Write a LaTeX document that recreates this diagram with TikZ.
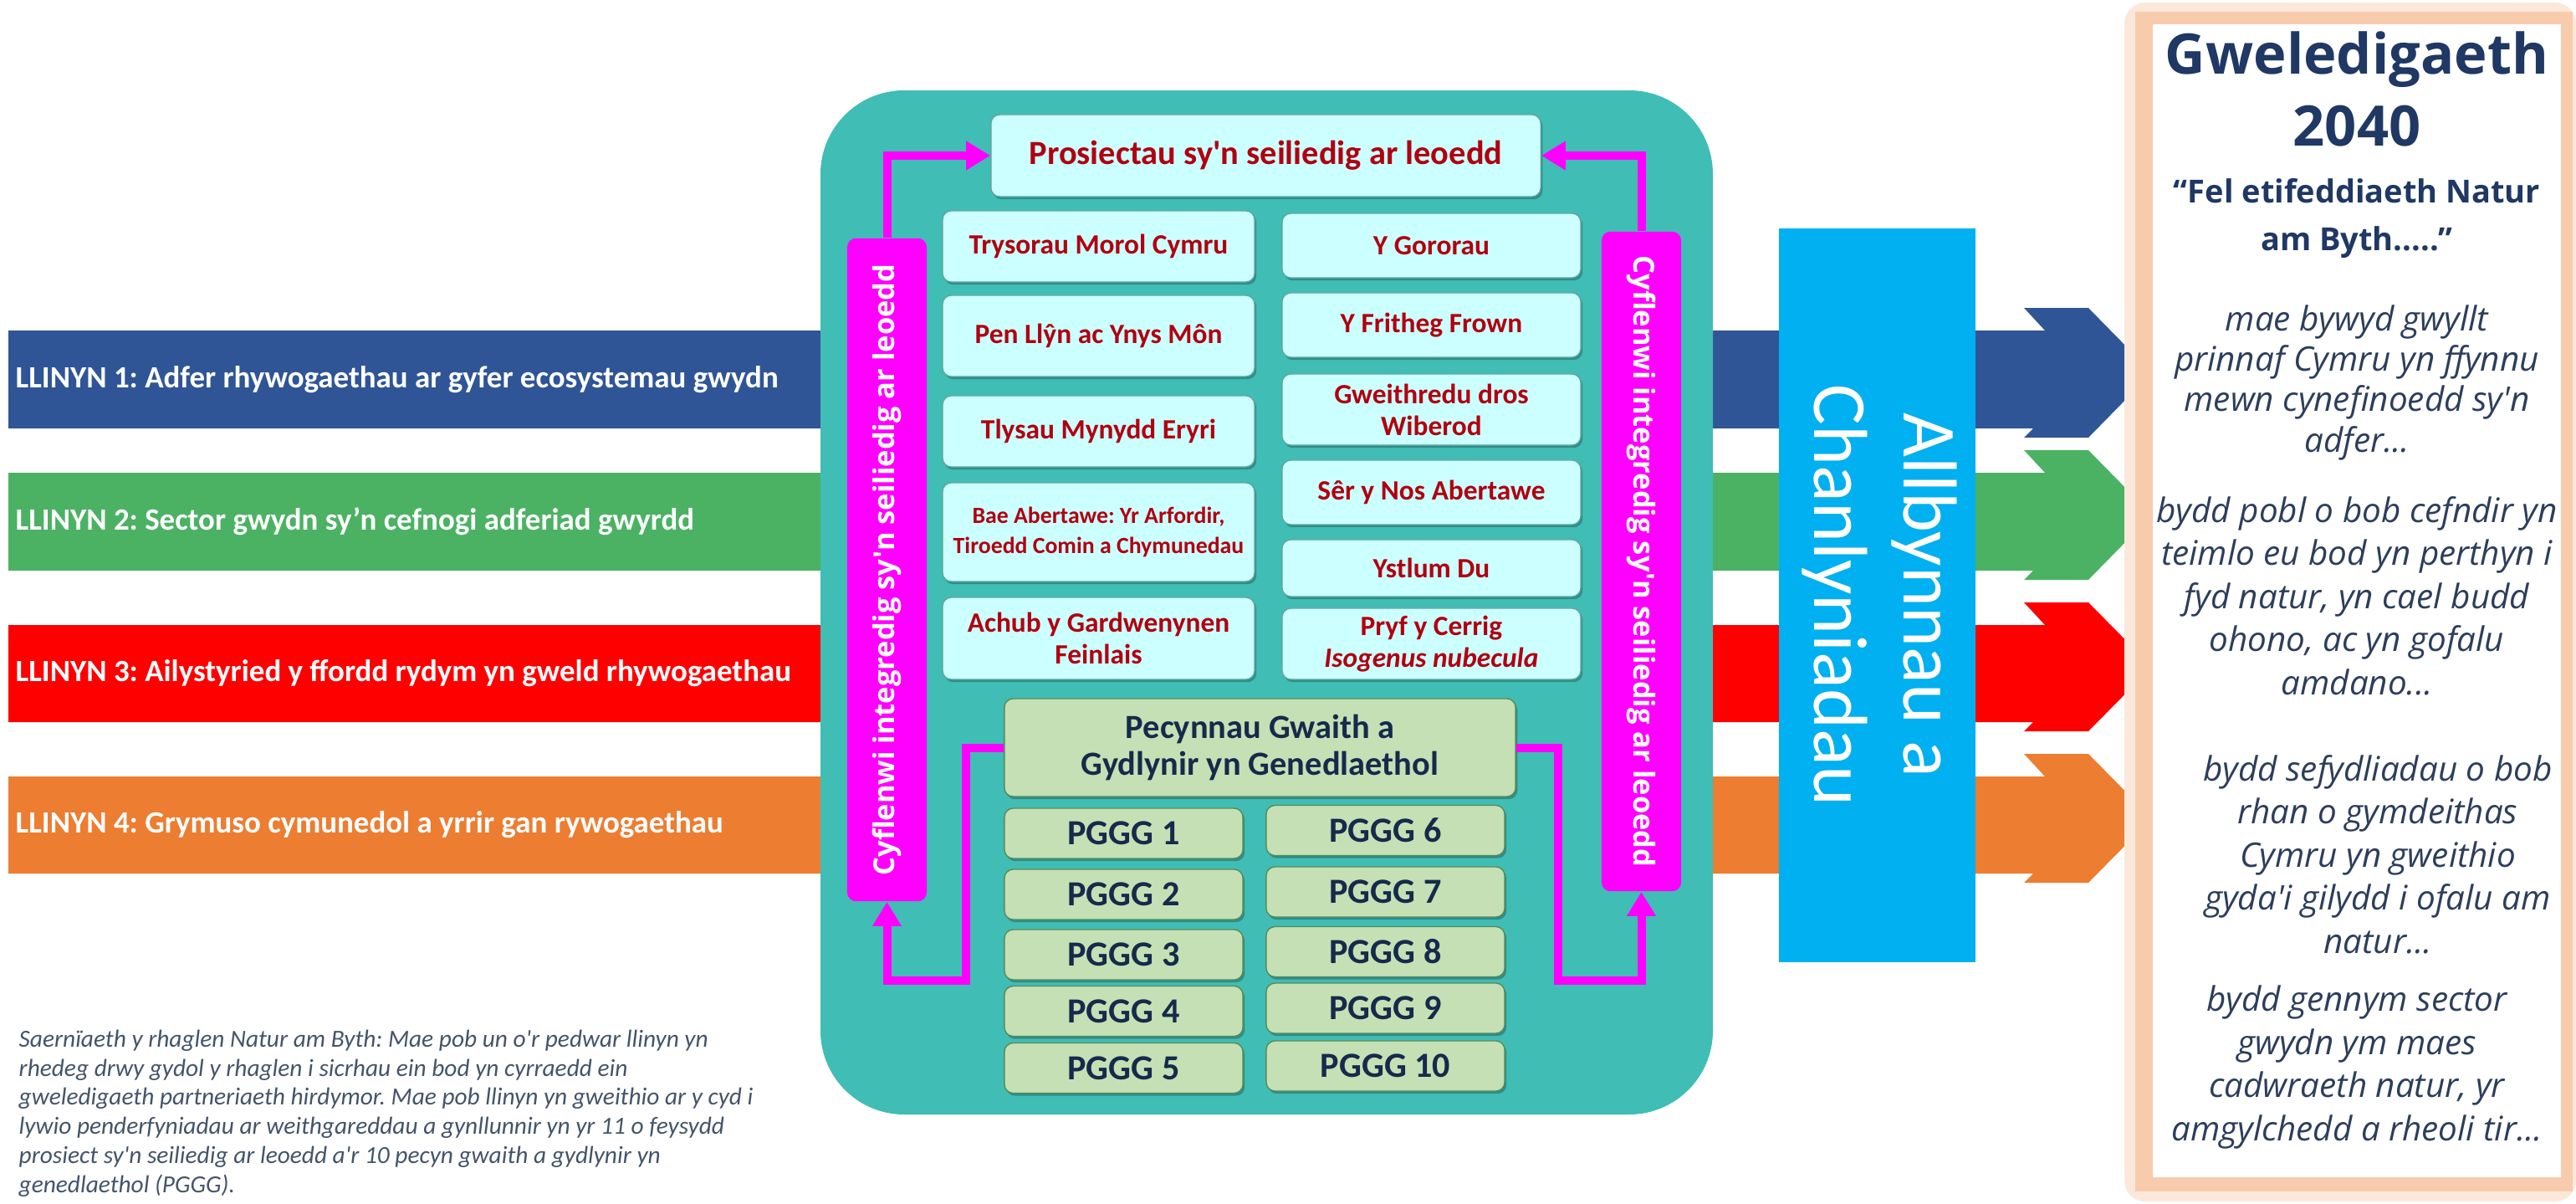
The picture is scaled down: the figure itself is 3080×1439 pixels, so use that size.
\documentclass[tikz,border=0pt]{standalone}
\usepackage{fontspec}
\usepackage{graphicx}
\setmainfont{Carlito}[Ligatures=TeXOff]
\newfontfamily\opensans{Open Sans}
\usetikzlibrary{arrows.meta,shadows}

\definecolor{llinynblue}{RGB}{47,85,151}
\definecolor{llinyngreen}{RGB}{75,178,99}
\definecolor{llinynred}{RGB}{255,0,0}
\definecolor{llinynorange}{RGB}{237,125,49}
\definecolor{hubteal}{RGB}{64,189,181}
\definecolor{prosiectfill}{RGB}{204,255,255}
\definecolor{prosiectedge}{RGB}{95,165,155}
\definecolor{prosiecttext}{RGB}{176,0,16}
\definecolor{pgggfill}{RGB}{197,224,180}
\definecolor{pgggedge}{RGB}{84,140,90}
\definecolor{pgggtext}{RGB}{22,42,76}
\definecolor{cyflenwimag}{RGB}{255,0,255}
\definecolor{allbynblue}{RGB}{0,176,240}
\definecolor{visionblue}{RGB}{31,56,100}
\definecolor{visionitalic}{RGB}{45,62,92}
\definecolor{visionglow}{RGB}{248,203,173}
\definecolor{visionglowlight}{RGB}{252,232,218}
\definecolor{captiongray}{RGB}{68,84,106}

\tikzset{
  llinyn/.style={anchor=west, inner sep=0pt, text=white,
    font=\fontsize{10.5}{12}\selectfont\bfseries},
  boxshadow/.style={drop shadow={shadow xshift=0.6pt, shadow yshift=-0.9pt,
    fill=black, opacity=0.25}},
  prosiect/.style={draw=prosiectedge, fill=prosiectfill, line width=0.4pt, boxshadow,
    rounded corners=3pt, align=center, inner sep=1pt, text=prosiecttext,
    font=\fontsize{9.5}{10.8}\selectfont\bfseries},
  lcol/.style={prosiect, minimum width=3.73cm},
  rcol/.style={prosiect, minimum width=3.57cm},
  pggg/.style={draw=pgggedge, fill=pgggfill, line width=0.4pt, rounded corners=3pt,
    boxshadow, minimum width=2.85cm, minimum height=0.6cm, inner sep=1pt,
    text=pgggtext, font=\fontsize{12}{14}\selectfont\bfseries},
  cyflenwi/.style={fill=cyflenwimag, rounded corners=3pt, minimum width=0.95cm,
    inner sep=0pt, text=white, font=\opensans\fontsize{9.8}{11}\selectfont\bfseries},
  conn/.style={draw=cyflenwimag, line width=0.1cm,
    -{Triangle[length=0.29cm,width=0.33cm]}},
  vision/.style={anchor=base, align=center, inner sep=0pt, text=visionitalic,
    font=\opensans\itshape\fontsize{11.5}{14.6}\selectfont},
  caption/.style={anchor=base west, align=left, inner sep=0pt, text=captiongray,
    font=\fontsize{8.35}{9.87}\selectfont\itshape},
}

\begin{document}
\frenchspacing
\begin{tikzpicture}[x=0.01cm, y=-0.01cm]
\useasboundingbox (0,0) rectangle (3080,1439);

% the four strands, each ending in an arrow
\foreach \ya/\yb/\col/\n/\txt in {395/512/llinynblue/1/{Adfer rhywogaethau ar gyfer ecosystemau gwydn},
    565/682/llinyngreen/2/{Sector gwydn sy’n cefnogi adferiad gwyrdd},
    747/863/llinynred/3/{Ailystyried y ffordd rydym yn gweld rhywogaethau},
    928/1044/llinynorange/4/{Grymuso cymunedol a yrrir gan rywogaethau}}{
  \fill[\col] (10,\ya) -- (2445,\ya) -- (2420,\ya-27) -- (2497,\ya-27)
    -- (2573,{(\ya+\yb-16)/2}) -- (2497,\yb+11) -- (2420,\yb+11) -- (2431,\yb)
    -- (10,\yb) -- cycle;
  \node[llinyn] (llinyn\n) at (18,{(\ya+\yb)/2}) {LLINYN \n: \txt};
}

% central programme block
\fill[hubteal, rounded corners=1cm] (981,108) rectangle (2048,1332);

\node[prosiect, minimum width=6.57cm, minimum height=0.98cm,
  font=\fontsize{11.5}{13}\selectfont\bfseries] (prosiectau) at (1513.5,186)
  {Prosiectau sy'n seiliedig ar leoedd};

\node[lcol, minimum height=0.85cm] (trysorau) at (1313.5,294.5) {Trysorau Morol Cymru};
\node[lcol, minimum height=0.97cm] (penllyn) at (1313.5,401.5) {Pen Llŷn ac Ynys Môn};
\node[lcol, minimum height=0.85cm] (tlysau) at (1313.5,515.5) {Tlysau Mynydd Eryri};
\node[lcol, minimum height=1.18cm, font=\fontsize{7.9}{10}\selectfont\bfseries] (bae)
  at (1313.5,636) {Bae Abertawe: Yr Arfordir,\\Tiroedd Comin a Chymunedau};
\node[lcol, minimum height=0.98cm] (achub) at (1313.5,763) {Achub y Gardwenynen\\Feinlais};
\node[rcol, minimum height=0.77cm] (gororau) at (1711.5,293.5) {Y Gororau};
\node[rcol, minimum height=0.77cm] (fritheg) at (1711.5,388.5) {Y Fritheg Frown};
\node[rcol, minimum height=0.85cm] (wiberod) at (1711.5,489.5) {Gweithredu dros\\Wiberod};
\node[rcol, minimum height=0.77cm] (seryrnos) at (1711.5,588.5) {Sêr y Nos Abertawe};
\node[rcol, minimum height=0.68cm] (ystlum) at (1711.5,679) {Ystlum Du};
\node[rcol, minimum height=0.85cm] (pryf) at (1711.5,769.5) {Pryf y Cerrig\\\textit{Isogenus nubecula}};

\node[pggg, minimum width=6.11cm, minimum height=1.17cm, align=center,
  font=\fontsize{11.5}{12.5}\selectfont\bfseries] (pecynnau) at (1506.5,893.5)
  {Pecynnau Gwaith a\\Gydlynir yn Genedlaethol};
\foreach \i/\y in {1/996,2/1069,3/1141,4/1208.5,5/1276.5}
  \node[pggg] (pggg\i) at (1343.5,\y) {PGGG \i};
\foreach \i/\y in {6/992.5,7/1066,8/1137.5,9/1205,10/1274}
  \node[pggg] (pggg\i) at (1656.5,\y) {PGGG \i};

% integrated delivery bars and their loops
\node[cyflenwi, minimum height=7.92cm] (lbar) at (1060.5,681)
  {\rotatebox{90}{Cyflenwi integredig sy'n seiliedig ar leoedd}};
\node[cyflenwi, minimum height=7.88cm] (rbar) at (1962.5,671)
  {\rotatebox{-90}{Cyflenwi integredig sy'n seiliedig ar leoedd}};
\coordinate (lcorner) at (1155,1172);
\coordinate (rcorner) at (1863,1172);
\draw[conn] (lbar.north) |- (prosiectau.west);
\draw[conn] (rbar.north) |- (prosiectau.east);
\draw[conn] (pecynnau.west) -| (lcorner) -| (lbar.south);
\draw[conn] (pecynnau.east) -| (rcorner) -| (rbar.south);

% outputs and outcomes
\node[fill=allbynblue, minimum width=2.35cm, minimum height=8.77cm, inner sep=0pt,
  text=white, font=\fontsize{26}{30.4}\selectfont] (allbyn) at (2244.5,711.5)
  {\rotatebox{-90}{\begin{tabular}{@{}c@{}}Allbynnau a\\Chanlyniadau\end{tabular}}};

% vision 2040 (base = last line)
\fill[visionglowlight, rounded corners=0.25cm] (2540,3) rectangle (3080,1436);
\fill[visionglow] (2553,14) rectangle (3076,1424);
\fill[white] (2574,29) rectangle (3062,1407);
\node[vision, text=visionblue, font=\opensans\bfseries\fontsize{19}{24.2}\selectfont]
  (gweledigaeth) at (2818,174) {Gweledigaeth\\2040};
\node[vision, text=visionblue, font=\opensans\bfseries\fontsize{10.8}{16}\selectfont]
  (dyfyniad) at (2818,299) {“Fel etifeddiaeth Natur\\am Byth.....”};
\node[vision, font=\opensans\itshape\fontsize{11.5}{13.7}\selectfont] (nod1) at (2818,540)
  {mae bywyd gwyllt\\prinnaf Cymru yn ffynnu\\mewn cynefinoedd sy'n\\adfer...};
\node[vision] (nod2) at (2818,830)
  {bydd pobl o bob cefndir yn\\teimlo eu bod yn perthyn i\\fyd natur, yn cael budd\\ohono, ac yn gofalu\\amdano...};
\node[vision] (nod3) at (2843,1139)
  {bydd sefydliadau o bob\\rhan o gymdeithas\\Cymru yn gweithio\\gyda'i gilydd i ofalu am\\natur...};
\node[vision] (nod4) at (2818,1363)
  {bydd gennym sector\\gwydn ym maes\\cadwraeth natur, yr\\amgylchedd a rheoli tir...};

% caption
\node[caption] (saerniaeth) at (22,1425)
  {Saernïaeth y rhaglen Natur am Byth: Mae pob un o'r pedwar llinyn yn\\
   rhedeg drwy gydol y rhaglen i sicrhau ein bod yn cyrraedd ein\\
   gweledigaeth partneriaeth hirdymor. Mae pob llinyn yn gweithio ar y cyd i\\
   lywio penderfyniadau ar weithgareddau a gynllunnir yn yr 11 o feysydd\\
   prosiect sy'n seiliedig ar leoedd a'r 10 pecyn gwaith a gydlynir yn\\
   genedlaethol (PGGG).};
\end{tikzpicture}
\end{document}
